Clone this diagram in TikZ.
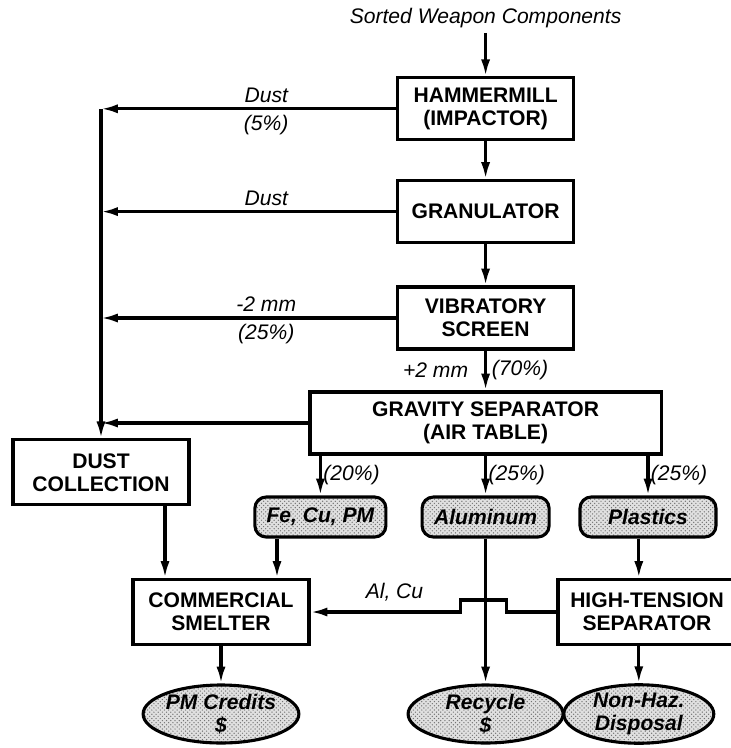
\documentclass[tikz,border=0pt]{standalone}
\usepackage{fontspec}
\setmainfont{Liberation Sans}
\usetikzlibrary{arrows.meta, patterns, shapes.geometric, calc}

\begin{document}
\begin{tikzpicture}
        \tikzset{ unit/.style ={draw, line width=2.2pt, align=center, font=\fontsize{15}{16.5}\selectfont\bfseries, minimum width=4.4cm, minimum height=1.55cm, inner sep=2pt} }
        \tikzset{ prod/.style ={draw, line width=2.2pt, rounded corners=8pt, font=\fontsize{15}{16.5}\selectfont\bfseries\itshape, minimum height=1.0cm, inner sep=2pt, preaction={fill=black!12}, pattern=crosshatch dots, pattern color=black!55} }
        \tikzset{ sink/.style ={draw, ellipse, line width=2.2pt, align=center, font=\fontsize{15}{16}\selectfont\bfseries\itshape, minimum width=3.875cm, minimum height=1.45cm, inner sep=0pt, preaction={fill=black!12}, pattern=crosshatch dots, pattern color=black!55} }
        \tikzset{ lbl/.style  ={font=\fontsize{15}{16.5}\selectfont\itshape} }
        \tikzset{ flow/.style ={->, >={Latex[length=12pt,width=6.5pt]}, line width=2.2pt} }

        \useasboundingbox (0,0) rectangle (18.275,-18.7);

        \node[lbl ] (src)    at (12.14, -0.45)  {Sorted Weapon Components};
        \node[unit] (ham)    at (12.14, -2.72)  {HAMMERMILL\\(IMPACTOR)};
        \node[unit] (gran)   at (12.14, -5.29)  {GRANULATOR};
        \node[unit] (vib)    at (12.14, -7.95)  {VIBRATORY\\SCREEN};
        \node[unit, minimum width=8.78cm] (grav) at (12.14,-10.575) {GRAVITY SEPARATOR\\(AIR TABLE)};
        \node[unit, minimum height=1.625cm] (dust) at (2.525,-11.81) {DUST\\COLLECTION};

        \node[prod, minimum width=3.275cm] (fecu) at ( 8.01,-12.925) {Fe, Cu, PM};
        \node[prod, minimum width=3.175cm] (alu)  at (12.14,-12.925) {Aluminum};
        \node[prod, minimum width=3.4cm  ] (plas) at (16.2 ,-12.925) {Plastics};

        \node[unit, minimum height=1.625cm] (smelt) at (5.525,-15.3) {COMMERCIAL\\SMELTER};
        \node[unit, minimum width=4.45cm, minimum height=1.625cm] (hts) at (16.175,-15.3) {HIGH-TENSION\\SEPARATOR};

        \node[sink] (pmc)    at (5.525,-17.85) {PM Credits\\\$};
        \node[sink] (rec)    at (12.14,-17.85) {Recycle\\\$};
        \node[sink, minimum width=3.75cm] (nonhaz) at (15.97,-17.85) {Non-Haz.\\Disposal};

        \coordinate (s1) at ([xshift=-1.4cm]smelt.north);
        \coordinate (s2) at ([xshift= 1.4cm]smelt.north);

        % main line
        \draw[flow] (src.south) -- (ham.north);
        \draw[flow] (ham) -- (gran);
        \draw[flow] (gran) -- (vib);
        \draw[flow] (vib) -- (grav) node [midway, left=8pt, lbl] {+2 mm} node [midway, right, lbl] {(70\%)};

        % dust
        \draw[flow] (ham.west)  -- (ham.west -| dust.north)  node [pos=0.44, above, lbl] {Dust} node [pos=0.44, below, lbl] {(5\%)};
        \draw[flow] (gran.west) -- (gran.west -| dust.north) node [pos=0.44, above, lbl] {Dust};
        \draw[flow] (vib.west)  -- (vib.west -| dust.north)  node [pos=0.44, above, lbl] {-2 mm} node [pos=0.44, below, lbl] {(25\%)};
        \draw[flow] (grav.west) -- (grav.west -| dust.north);
        \draw[flow] (ham.west -| dust.north) -- (dust.north);

        % products
        \draw[flow] (grav.south -| fecu) -- (fecu) node [midway, right, lbl, inner sep=1pt] {(20\%)};
        \draw[flow] (grav.south -| alu)  -- (alu)  node [midway, right, lbl, inner sep=1pt] {(25\%)};
        \draw[flow] (grav.south -| plas) -- (plas) node [midway, right, lbl, inner sep=1pt] {(25\%)};

        \draw[flow] (dust.south -| s1) -- (s1);
        \draw[flow] (fecu.south -| s2) -- (s2);
        \draw[flow] (alu) -- (rec);
        \draw[flow] (plas.south -| nonhaz) -- (hts.north -| nonhaz);
        \draw[flow] (hts.south -| nonhaz) -- (nonhaz);
        \draw[flow] (smelt) -- (pmc);

        \draw[flow] (hts.west) -- ++(-1.25,0) -- ++(0,0.3) -- ++(-1.15,0) -- ++(0,-0.3) -- (smelt.east) node [pos=0.44, above=3pt, lbl] {Al, Cu};
      \end{tikzpicture}
\end{document}
